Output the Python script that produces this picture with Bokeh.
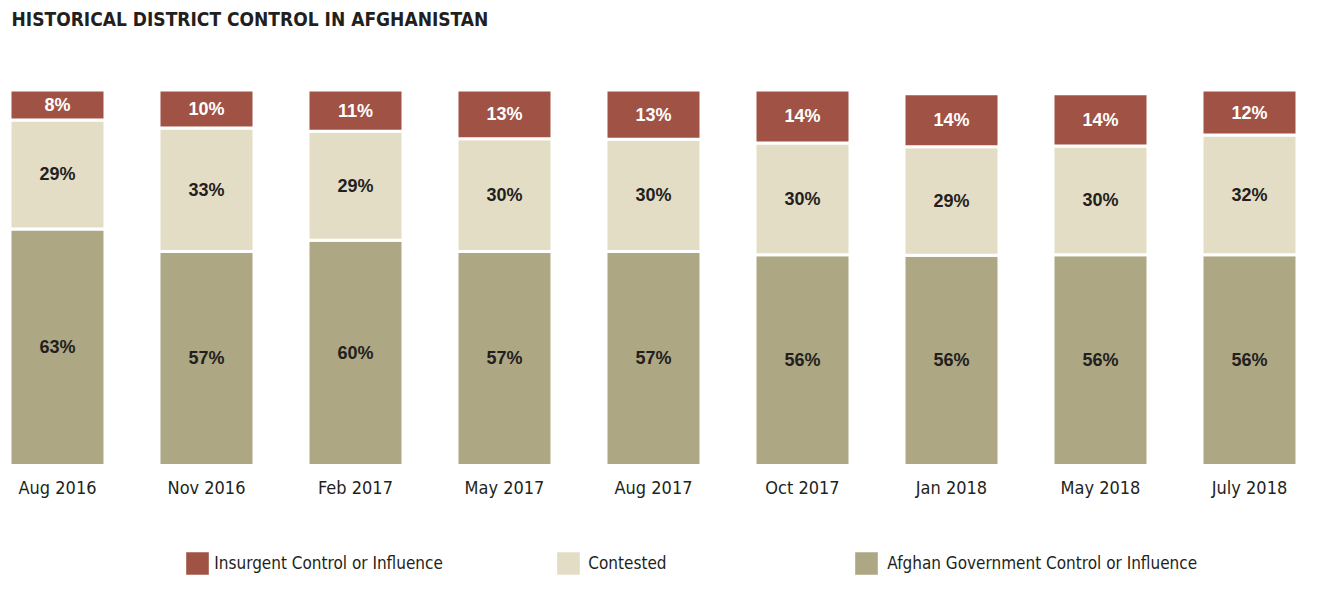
from bokeh.plotting import figure
from bokeh.models import ColumnDataSource, Range1d, FixedTicker, Legend, LegendItem, Label
from bokeh.embed import file_html
from bokeh.resources import INLINE
from bokeh.core.properties import value

categories = ["Aug 2016", "Nov 2016", "Feb 2017", "May 2017", "Aug 2017",
              "Oct 2017", "Jan 2018", "May 2018", "July 2018"]
government = [63.0, 57.0, 60.0, 57.0, 57.0, 56.1, 56.0, 56.1, 56.1]
contested = [29.0, 32.9, 29.0, 30.0, 29.9, 29.8, 28.9, 29.0, 31.9]
insurgent = [8.0, 10.1, 11.0, 13.0, 13.1, 14.1, 14.1, 13.9, 12.0]
government_labels = ["63%", "57%", "60%", "57%", "57%", "56%", "56%", "56%", "56%"]
contested_labels = ["29%", "33%", "29%", "30%", "30%", "30%", "29%", "30%", "32%"]
insurgent_labels = ["8%", "10%", "11%", "13%", "13%", "14%", "14%", "14%", "12%"]
series_names = ["Afghan Government Control or Influence", "Contested", "Insurgent Control or Influence"]

GOV = "#ADA783"
CON = "#E3DDC6"
INS = "#A05244"
DARK = "#231F20"
NARROW = "'DejaVu Sans Condensed', 'Roboto Condensed', Roboto, sans-serif"

xs = list(range(len(categories)))
src = ColumnDataSource(dict(x=xs, gov=government, con=contested, ins=insurgent))

W, H = 1315, 593
PX = 3.755      # pixels per percent
Y0 = 465        # canvas row of 0%
X0 = -57 / 149.0
p = figure(width=W, height=H, output_backend="svg", toolbar_location=None,
           title=None, min_border=0,
           x_range=Range1d(X0, X0 + W / 149.0),
           y_range=Range1d(-(H - Y0) / PX, Y0 / PX))
p.outline_line_color = None
p.background_fill_color = "white"
p.xgrid.visible = False
p.ygrid.visible = False
p.yaxis.visible = False

rs = p.vbar_stack(["gov", "con", "ins"], x="x", width=0.6376, source=src,
                  color=[GOV, CON, INS], line_color="white", line_width=3)

# segment labels
gov_c = [g / 2 for g in government]
con_c = [g + c / 2 for g, c in zip(government, contested)]
ins_c = [g + c + i / 2 for g, c, i in zip(government, contested, insurgent)]
lab_src = ColumnDataSource(dict(x=xs * 3, y=gov_c + con_c + ins_c,
                                t=government_labels + contested_labels + insurgent_labels,
                                c=[DARK] * 18 + ["white"] * 9))
p.text(x="x", y="y", text="t", source=lab_src, text_color="c",
       text_align="center", text_baseline="middle",
       text_font=value("Liberation Sans"), text_font_size="18px", text_font_style="bold")

ax = p.xaxis[0]
ax.fixed_location = 0
ax.ticker = FixedTicker(ticks=xs)
ax.major_label_overrides = {i: c for i, c in zip(xs, categories)}
ax.axis_line_color = None
ax.major_tick_line_color = None
ax.minor_tick_line_color = None
ax.major_label_standoff = 5
ax.major_label_text_font = NARROW
ax.major_label_text_font_size = "18px"
ax.major_label_text_color = DARK

# legends
leg_pos = [(850.3, 14), (552.3, 14), (181.3, 14)]
leg_standoff = [5, 4, 1]
for r, name, pos, so in zip(rs, series_names, leg_pos, leg_standoff):
    lg = Legend(items=[LegendItem(label=name, renderers=[r])], location=pos,
                orientation="horizontal", padding=0, margin=0, spacing=0,
                glyph_width=32, glyph_height=32, label_height=32, label_standoff=so,
                label_text_font=NARROW, label_text_font_size="17px",
                label_text_color=DARK, border_line_color=None,
                background_fill_alpha=0, label_text_baseline="middle")
    p.add_layout(lg, "center")

title = Label(x=11, y=H - 18, x_units="screen", y_units="screen",
              text="HISTORICAL DISTRICT CONTROL IN AFGHANISTAN",
              text_font=NARROW, text_font_style="bold", text_font_size="19px",
              text_color=DARK, text_baseline="alphabetic")
p.add_layout(title)

open("out.html", "w").write(file_html(p, INLINE))
